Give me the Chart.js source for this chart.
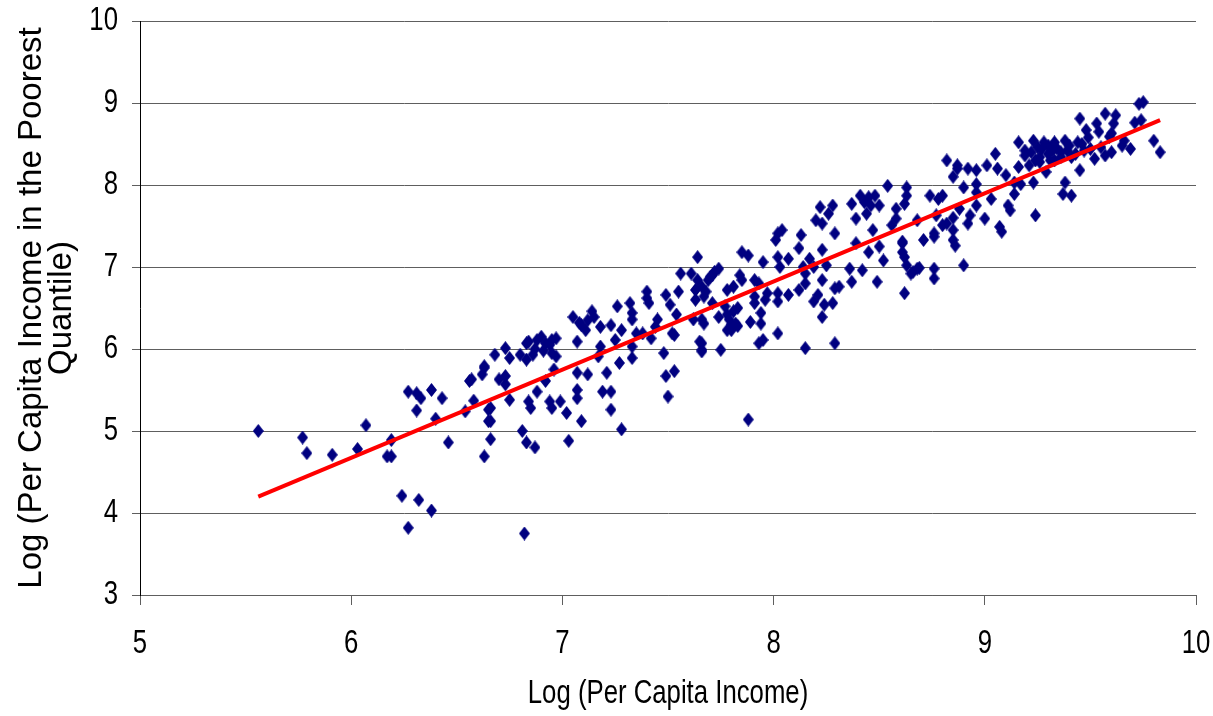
<!DOCTYPE html>
<html lang="en">
<head>
<meta charset="UTF-8" />
<title>Log income scatter</title>
<script src="https://cdn.jsdelivr.net/npm/chart.js"></script>
<style>
  body { margin: 0; background: #ffffff; }
</style>
</head>
<body>
<canvas id="scatterChart" width="1213" height="716"></canvas>
<script>
  // [log per capita income, log per capita income of poorest quantile]
  const lowBand = [
    [5.56,5.00],[5.77,4.92],[5.79,4.73],[5.91,4.71],[6.03,4.78],[6.07,5.07],[6.17,4.69],[6.19,4.69],
    [6.19,4.89],[6.24,4.21],[6.27,3.82],[6.32,4.16],[6.38,4.03],[6.27,5.48],[6.31,5.46],[6.33,5.40],
    [6.31,5.25],[6.38,5.50],[6.43,5.40],[6.40,5.15],[6.46,4.86],[6.54,5.24],[6.58,5.37],[6.56,5.61],
    [6.57,5.63],[6.63,5.77],[6.62,5.69],[6.65,5.26],[6.65,5.12],[6.63,4.69],[6.82,3.75]
  ];
  const midBand = [
    [6.63,5.79],[6.66,5.28],[6.66,5.12],[6.66,4.90],[6.68,5.93],[6.70,5.63],[6.73,6.01],[6.73,5.67],
    [6.73,5.57],[6.75,5.89],[6.75,5.38],[6.81,5.00],[6.83,4.86],[6.87,4.80],[6.83,6.07],[6.84,6.09],
    [6.83,5.87],[6.86,5.93],[6.88,6.11],[6.90,6.15],[6.92,6.07],[6.94,6.05],[6.95,6.11],[6.97,6.13],
    [6.97,5.91],[6.84,5.36],[6.85,5.28],[6.88,5.48],[6.92,5.61],[6.94,5.36],[6.95,5.28],[6.96,5.75],
    [6.99,5.36],[7.02,5.22],[7.03,4.88],[7.05,6.39],[7.07,6.09],[7.07,5.50],[7.07,5.40],[7.07,5.71],
    [7.09,5.12],[7.09,6.29],[7.11,6.23],[7.12,5.69],[7.14,6.46],[7.15,6.39],[7.18,6.27],[7.18,6.03],
    [7.17,5.91],[7.19,5.48],[7.21,5.71],[7.23,6.29],[7.23,5.48],[7.23,5.26],[7.25,6.11],[7.26,6.52],
    [7.27,5.83],[7.28,5.02],[7.28,6.23],[7.32,6.56],[7.33,6.36],[7.33,6.44],[7.33,6.03],[7.33,5.89],
    [7.35,6.19],[7.38,6.19],[7.40,6.70],[7.40,6.62],[7.41,6.56],[7.42,6.13],[7.44,6.27],[7.45,6.36],
    [7.48,5.95],[7.49,5.67],[7.50,5.42],[7.53,5.73],[7.49,6.66],[7.51,6.54],[7.53,6.17],[7.54,6.42],
    [7.55,6.70],[7.56,6.92],[7.61,6.92],[7.63,6.72],[7.64,7.12],[7.64,6.84],[7.62,6.36],[7.65,6.09],
    [7.66,5.99],[7.66,6.36],[7.67,6.64],[7.69,6.84],[7.71,6.90],[7.74,6.98],[7.75,5.99],[7.74,6.39],
    [7.78,6.72],[7.78,6.23],[6.87,6.00],[6.91,5.98],[6.95,5.95],[6.80,5.93],[7.08,6.32],[7.12,6.35],
    [7.52,6.19]
  ];
  const upperBand = [
    [7.66,6.76],[7.67,6.31],[7.66,6.07],[7.66,5.97],[7.70,6.88],[7.72,6.94],[7.71,6.56],[7.77,6.52],
    [7.79,6.36],[7.80,6.23],[7.81,6.76],[7.81,6.46],[7.82,6.31],[7.83,6.28],[7.84,6.90],[7.85,6.84],
    [7.85,7.18],[7.88,7.14],[7.88,5.14],[7.89,6.33],[7.91,6.84],[7.91,6.64],[7.91,6.56],[7.93,6.80],
    [7.93,6.07],[7.94,6.44],[7.94,6.31],[7.95,6.11],[7.95,7.06],[7.96,6.60],[7.97,6.68],[8.01,7.33],
    [8.02,7.41],[8.04,7.45],[8.02,7.12],[8.03,7.00],[8.02,6.68],[8.02,6.19],[8.02,6.58],[8.07,7.10],
    [8.07,6.66],[8.12,7.23],[8.13,7.39],[8.14,7.00],[8.12,6.72],[8.15,6.01],[8.15,6.92],[8.15,6.80],
    [8.17,7.10],[8.19,7.00],[8.19,6.58],[8.20,7.57],[8.21,6.66],[8.22,7.73],[8.23,7.53],[8.23,7.21],
    [8.23,6.84],[8.23,6.39],[8.24,6.54],[8.25,7.02],[8.26,7.65],[8.28,6.56],[8.28,7.75],[8.29,7.41],
    [8.29,6.74],[8.29,6.07],[8.31,6.76],[8.36,6.98],[8.37,6.82],[8.37,7.77],[8.39,7.29],[8.39,7.59],
    [8.41,7.87],[8.43,7.79],[8.42,6.96],[8.44,7.65],[8.45,7.85],[8.45,7.18],[8.46,7.75],[8.47,7.45],
    [8.48,7.87],[8.49,6.82],[8.50,7.25],[8.50,7.75],[8.52,7.08],[8.54,7.99],[8.56,7.51],[8.58,7.71],
    [8.58,7.59],[8.61,7.31],[8.61,7.18],[8.62,6.68],[8.62,7.12],[8.63,7.97],[8.63,7.87],[8.63,7.02],
    [8.65,6.92],[8.68,7.57],[8.68,6.98],[8.71,7.33],[8.74,7.87],[8.76,7.41],[8.76,6.86],[8.76,6.98],
    [8.78,7.83],[8.77,7.63],[8.80,7.87],[8.80,7.51],[7.78,6.42],[7.83,6.50],[7.80,6.30],[7.63,6.60],
    [7.68,6.70]
  ];
  const topBand = [
    [8.62,7.77],[8.61,7.29],[8.66,6.94],[8.69,6.99],[8.76,7.37],[8.82,8.30],[8.82,7.53],[8.85,7.60],
    [8.85,7.45],[8.85,8.10],[8.85,7.33],[8.86,7.26],[8.87,8.24],[8.87,8.20],[8.88,7.71],[8.90,7.97],
    [8.90,7.02],[8.92,8.20],[8.92,7.53],[8.93,7.63],[8.96,8.18],[8.96,7.75],[8.96,7.91],[8.96,8.01],
    [9.00,7.59],[9.01,8.24],[9.03,7.83],[9.05,8.38],[9.06,8.20],[9.07,7.49],[9.08,7.43],[9.10,8.12],
    [9.11,7.75],[9.12,7.69],[9.14,7.89],[9.14,8.03],[9.16,8.22],[9.16,8.52],[9.17,8.01],[9.19,8.36],
    [9.19,8.42],[9.21,8.24],[9.23,8.54],[9.23,8.03],[9.24,7.63],[9.24,8.30],[9.25,8.46],[9.26,8.34],
    [9.28,8.52],[9.29,8.16],[9.30,8.48],[9.31,8.30],[9.32,8.42],[9.33,8.52],[9.37,7.89],[9.36,8.34],
    [9.38,8.03],[9.38,8.54],[9.39,8.42],[9.41,7.87],[9.41,8.34],[9.45,8.18],[9.45,8.81],[9.46,8.50],
    [9.48,8.67],[9.49,8.58],[9.50,8.44],[9.52,8.32],[9.53,8.75],[9.54,8.65],[9.55,8.46],[9.57,8.36],
    [9.57,8.87],[9.59,8.59],[9.60,8.40],[9.60,8.63],[9.61,8.75],[9.62,8.85],[9.65,8.48],[9.66,8.54],
    [9.69,8.44],[9.71,8.76],[9.73,8.99],[9.75,9.01],[9.74,8.79],[9.80,8.54],[9.83,8.40],[9.22,8.40],
    [9.27,8.44],[9.30,8.38],[9.34,8.45],[9.36,8.40],[9.40,8.48],[9.43,8.38],[9.44,8.52],[9.47,8.42],
    [9.26,8.28],[9.33,8.30]
  ];

  // fitted line end points
  const trendX = [5.56, 9.83];
  const trendY = [4.20, 8.79];

  const xTicks = [5, 6, 7, 8, 9, 10];
  const yTicks = [3, 4, 5, 6, 7, 8, 9, 10];

  const sans = "'Liberation Sans', Arial, sans-serif";
  const gridGray = '#5e5e5e';

  // tall navy diamond, a bit narrower than it is high
  function diamondMarker(w, h, color) {
    const c = document.createElement('canvas');
    c.width = w;
    c.height = h;
    const g = c.getContext('2d');
    g.fillStyle = color;
    g.beginPath();
    g.moveTo(w / 2, 0);
    g.lineTo(w, h / 2);
    g.lineTo(w / 2, h);
    g.lineTo(0, h / 2);
    g.closePath();
    g.fill();
    return c;
  }

  // horizontal labels in the original are condensed; squeeze unrotated text
  const condenseText = {
    id: 'condenseText',
    beforeDraw(chart) {
      const ctx = chart.ctx;
      const orig = ctx.fillText;
      ctx._plainFillText = orig;
      ctx.fillText = function (text, x, y, maxWidth) {
        const t = this.getTransform();
        if (Math.abs(t.b) < 1e-6) {
          const w = this.measureText(text).width * 0.78;
          maxWidth = maxWidth === undefined ? w : Math.min(maxWidth, w);
        }
        return maxWidth === undefined ? orig.call(this, text, x, y) : orig.call(this, text, x, y, maxWidth);
      };
    },
    afterDraw(chart) {
      chart.ctx.fillText = chart.ctx._plainFillText;
    }
  };

  const scatterPoints = [...lowBand, ...midBand, ...upperBand, ...topBand].map(p => ({ x: p[0], y: p[1] }));
  const trendPoints = trendX.map((x, i) => ({ x: x, y: trendY[i] }));

  new Chart(document.getElementById('scatterChart'), {
    type: 'scatter',
    data: {
      datasets: [
        {
          type: 'line',
          data: trendPoints,
          borderColor: '#ff0000',
          borderWidth: 4,
          pointRadius: 0,
          fill: false,
          order: 0
        },
        {
          data: scatterPoints,
          pointStyle: diamondMarker(11, 14, '#000080'),
          pointRadius: 6,
          order: 1
        }
      ]
    },
    options: {
      responsive: false,
      animation: false,
      layout: { padding: { top: 21, right: 17, left: 0, bottom: 0 } },
      plugins: { legend: { display: false }, tooltip: { enabled: false } },
      scales: {
        x: {
          type: 'linear',
          min: 5,
          max: 10,
          afterBuildTicks: s => { s.ticks = xTicks.map(v => ({ value: v })); },
          afterFit: s => { s.height = 121; s.paddingLeft = 0; s.paddingRight = 0; },
          grid: { drawOnChartArea: false, color: gridGray, tickLength: 10 },
          border: { color: gridGray },
          ticks: { color: '#000', padding: 19, font: { family: sans, size: 33 } },
          title: {
            display: true,
            text: 'Log (Per Capita Income)',
            color: '#000',
            font: { family: sans, size: 33 },
            padding: { top: 0, bottom: 2 }
          }
        },
        y: {
          type: 'linear',
          min: 3,
          max: 10,
          afterBuildTicks: s => { s.ticks = yTicks.map(v => ({ value: v })); },
          afterFit: s => { s.width = 140; s.paddingTop = 0; s.paddingBottom = 0; },
          grid: { color: gridGray, tickLength: 8 },
          border: { color: '#000' },
          ticks: { color: '#000', padding: 14, font: { family: sans, size: 33 } },
          title: {
            display: true,
            text: ['Log (Per Capita Income in the Poorest', 'Quantile)'],
            color: '#000',
            font: { family: sans, size: 33, lineHeight: 0.9 },
            padding: { top: 17, bottom: 0 }
          }
        }
      }
    },
    plugins: [condenseText]
  });
</script>
</body>
</html>
